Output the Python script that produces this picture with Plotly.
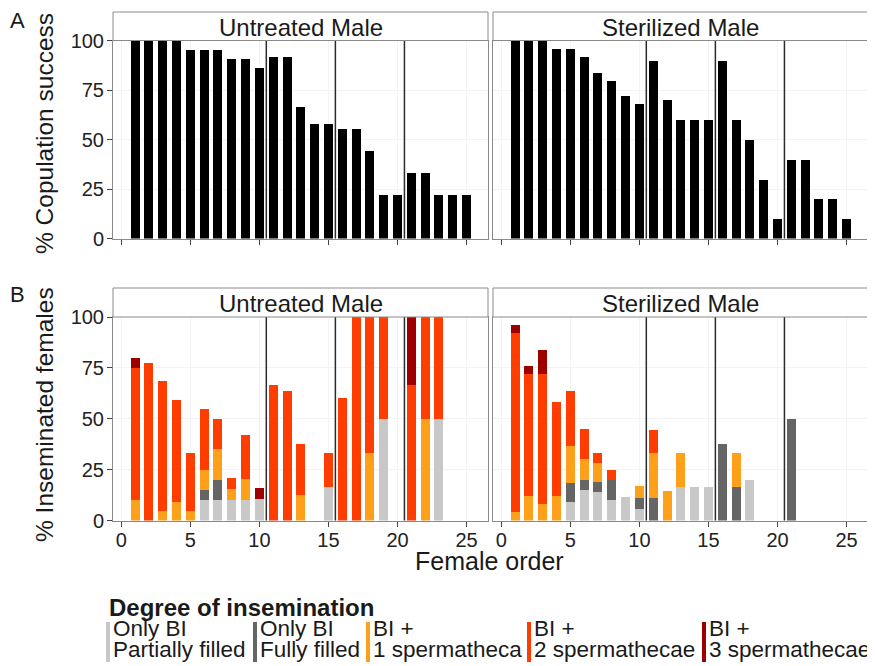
import plotly.graph_objects as go

W, H = 875, 666
FONT = "Liberation Sans, Arial, sans-serif"
OFF = 8  # page body margin applied by the browser

# ---------------- data ----------------
female_order = list(range(1, 26))
x_tick_vals = [0, 5, 10, 15, 20, 25]
y_tick_vals = [0, 25, 50, 75, 100]
block_breaks = [10.5, 15.5, 20.5]
groups = ["Untreated Male", "Sterilized Male"]

# Panel A: % copulation success
cop_untreated = [100, 100, 100, 100, 95.5, 95.5, 95.5, 90.9, 90.9, 86.4,
                 91.7, 91.7, 66.7, 58.3, 58.3, 55.6, 55.6, 44.4, 22.2, 22.2,
                 33.3, 33.3, 22.2, 22.2, 22.2]
cop_sterilized = [100, 100, 100, 96, 96, 92, 84, 80, 72, 68,
                  90, 70, 60, 60, 60, 90, 60, 50, 30, 10,
                  40, 40, 20, 20, 10]

# Panel B: % inseminated females by degree of insemination
unt_partial = [0, 0, 0, 0, 0, 10, 10, 10, 10, 10.5,
               0, 0, 0, 0, 16.7, 0, 0, 0, 50, 0,
               0, 0, 50, 0, 0]
unt_full = [0, 0, 0, 0, 0, 5, 10, 0, 0, 0,
            0, 0, 0, 0, 0, 0, 0, 0, 0, 0,
            0, 0, 0, 0, 0]
unt_one = [10, 0, 4.8, 9.2, 4.8, 10, 15, 5.6, 10.5, 0,
           0, 0, 12.5, 0, 0, 0, 0, 33.3, 0, 0,
           0, 50, 0, 0, 0]
unt_two = [65, 77.5, 63.6, 50, 28.5, 30, 15, 5.2, 21.5, 0,
           66.7, 63.8, 25, 0, 16.6, 60, 100, 66.7, 50, 0,
           66.7, 50, 50, 0, 0]
unt_three = [5, 0, 0, 0, 0, 0, 0, 0, 0, 5.5,
             0, 0, 0, 0, 0, 0, 0, 0, 0, 0,
             33.3, 0, 0, 0, 0]

ste_partial = [0, 0, 0, 0, 9.1, 15, 14, 10, 11.5, 5.6,
               0, 0, 16.7, 16.7, 16.7, 0, 0, 20, 0, 0,
               0, 0, 0, 0, 0]
ste_full = [0, 0, 0, 0, 9.1, 5, 4.8, 10, 0, 5.6,
            11.1, 0, 0, 0, 0, 37.5, 16.7, 0, 0, 0,
            50, 0, 0, 0, 0]
ste_one = [4, 12, 8, 12, 18.2, 10, 9.5, 0, 0, 6,
           22.2, 14.3, 16.7, 0, 0, 0, 16.7, 0, 0, 0,
           0, 0, 0, 0, 0]
ste_two = [88, 60, 64, 46, 27.3, 15, 4.8, 5, 0, 0,
           11.1, 0, 0, 0, 0, 0, 0, 0, 0, 0,
           0, 0, 0, 0, 0]
ste_three = [4, 4, 12, 0, 0, 0, 0, 0, 0, 0,
             0, 0, 0, 0, 0, 0, 0, 0, 0, 0,
             0, 0, 0, 0, 0]

legend_title = "Degree of insemination"
cat_line1 = ["Only BI", "Only BI", "BI +", "BI +", "BI +"]
cat_line2 = ["Partially filled", "Fully filled", "1 spermatheca",
             "2 spermathecae", "3 spermathecae"]
cat_colors = ["#C8C8C8", "#656565", "#FFA01A", "#FF3D00", "#9E0000"]

# ---------------- layout helpers (screen pixels -> paper) ----------------
def px(x):
    return (x - OFF) / W


def py(y):
    return 1 - (y - OFF) / H


col_px = [(113, 488), (493, 868)]
rowA = (40.5, 238.5)
rowB = (317, 520.5)
stripA = (12, 40.5)
stripB = (288, 317)

fig = go.Figure()

bar_w = 0.65
# Panel A
for i, vals in enumerate([cop_untreated, cop_sterilized]):
    sfx = "" if i == 0 else "2"
    fig.add_trace(go.Bar(x=female_order, y=vals, width=bar_w,
                         marker=dict(color="black", line=dict(width=0)),
                         xaxis="x" + sfx, yaxis="y" + sfx, showlegend=False,
                         name=groups[i]))

# Panel B
series_unt = [unt_partial, unt_full, unt_one, unt_two, unt_three]
series_ste = [ste_partial, ste_full, ste_one, ste_two, ste_three]
for i, series in enumerate([series_unt, series_ste]):
    sfx = "3" if i == 0 else "4"
    for k, vals in enumerate(series):
        fig.add_trace(go.Bar(x=female_order, y=vals, width=bar_w,
                             marker=dict(color=cat_colors[k], line=dict(width=0)),
                             xaxis="x" + sfx, yaxis="y" + sfx, showlegend=False,
                             name=cat_line1[k] + " " + cat_line2[k]))

common = dict(showline=True, linecolor="#8a8a8a", linewidth=1, mirror=True,
              ticks="outside", ticklen=5, tickcolor="#444444", tickwidth=1,
              showgrid=True, gridcolor="#F3F3F3", gridwidth=1, zeroline=False,
              automargin=False,
              tickfont=dict(family=FONT, size=20, color="#222222"))

xr = [-0.6, 26.55]
layout_axes = {}
for idx, (ci, row) in enumerate([(0, rowA), (1, rowA), (0, rowB), (1, rowB)]):
    n = "" if idx == 0 else str(idx + 1)
    is_b = row is rowB
    layout_axes["xaxis" + n] = dict(
        common, domain=[px(col_px[ci][0]), px(col_px[ci][1])], anchor="y" + n,
        range=xr, tickvals=x_tick_vals, showticklabels=is_b,
        ticklabelstandoff=-4)
    layout_axes["yaxis" + n] = dict(
        common, domain=[py(row[1]), py(row[0])], anchor="x" + n,
        range=[0, 100], tickvals=y_tick_vals, showticklabels=(ci == 0),
        ticks="outside" if ci == 0 else "", ticklabelstandoff=-1)

fig.update_layout(**layout_axes)

shapes = []
annotations = []
# block break lines
for idx in range(4):
    n = "" if idx == 0 else str(idx + 1)
    for b in block_breaks:
        shapes.append(dict(type="line", xref="x" + n, yref="y" + n + " domain",
                           x0=b, x1=b, y0=0, y1=1,
                           line=dict(color="#2b2b2b", width=1.5)))

# strips
for strip in (stripA, stripB):
    for ci in range(2):
        shapes.append(dict(type="rect", xref="paper", yref="paper",
                           x0=px(col_px[ci][0]), x1=px(col_px[ci][1]),
                           y0=py(strip[1]), y1=py(strip[0]),
                           fillcolor="white", line=dict(color="#8a8a8a", width=1)))
        annotations.append(dict(xref="paper", yref="paper",
                                x=px((col_px[ci][0] + col_px[ci][1]) / 2),
                                y=py((strip[0] + strip[1]) / 2 + 1),
                                text=groups[ci], showarrow=False,
                                xanchor="center", yanchor="middle",
                                font=dict(family=FONT, size=24, color="#1a1a1a")))

# panel letters
annotations.append(dict(xref="paper", yref="paper", x=px(17), y=py(21), text="A",
                        showarrow=False, xanchor="center", yanchor="middle",
                        font=dict(family=FONT, size=22, color="#1a1a1a")))
annotations.append(dict(xref="paper", yref="paper", x=px(17), y=py(294), text="B",
                        showarrow=False, xanchor="center", yanchor="middle",
                        font=dict(family=FONT, size=22, color="#1a1a1a")))

# axis titles
annotations.append(dict(xref="paper", yref="paper", x=px(44), y=py(134),
                        text="% Copulation success", textangle=-90, showarrow=False,
                        xanchor="center", yanchor="middle",
                        font=dict(family=FONT, size=24.5, color="#1a1a1a")))
annotations.append(dict(xref="paper", yref="paper", x=px(44), y=py(415),
                        text="% Inseminated females", textangle=-90, showarrow=False,
                        xanchor="center", yanchor="middle",
                        font=dict(family=FONT, size=24.5, color="#1a1a1a")))
annotations.append(dict(xref="paper", yref="paper", x=px(490), y=py(561),
                        text="Female order", showarrow=False,
                        xanchor="center", yanchor="middle",
                        font=dict(family=FONT, size=25, color="#1a1a1a")))

# legend (drawn manually to match the thin vertical keys)
annotations.append(dict(xref="paper", yref="paper", x=px(107), y=py(607),
                        text="<b>" + legend_title + "</b>", showarrow=False,
                        xanchor="left", yanchor="middle",
                        font=dict(family=FONT, size=24, color="#1a1a1a")))
key_x = [106, 253, 366, 527, 702]
for k in range(5):
    shapes.append(dict(type="rect", xref="paper", yref="paper",
                       x0=px(key_x[k]), x1=px(key_x[k] + 4),
                       y0=py(662), y1=py(622),
                       fillcolor=cat_colors[k], line=dict(width=0)))
    annotations.append(dict(xref="paper", yref="paper", x=px(key_x[k] + 5), y=py(628.5),
                            text=cat_line1[k], showarrow=False,
                            xanchor="left", yanchor="middle",
                            font=dict(family=FONT, size=22.5, color="#1a1a1a")))
    annotations.append(dict(xref="paper", yref="paper", x=px(key_x[k] + 5), y=py(649.5),
                            text=cat_line2[k], showarrow=False,
                            xanchor="left", yanchor="middle",
                            font=dict(family=FONT, size=22.5, color="#1a1a1a")))

fig.update_layout(
    template="none",
    width=W, height=H,
    margin=dict(l=0, r=0, t=0, b=0, pad=0, autoexpand=False),
    paper_bgcolor="white", plot_bgcolor="white",
    barmode="stack", bargap=0,
    showlegend=False,
    shapes=shapes, annotations=annotations,
    font=dict(family=FONT, color="#1a1a1a"),
)

fig.write_html("out.html")
